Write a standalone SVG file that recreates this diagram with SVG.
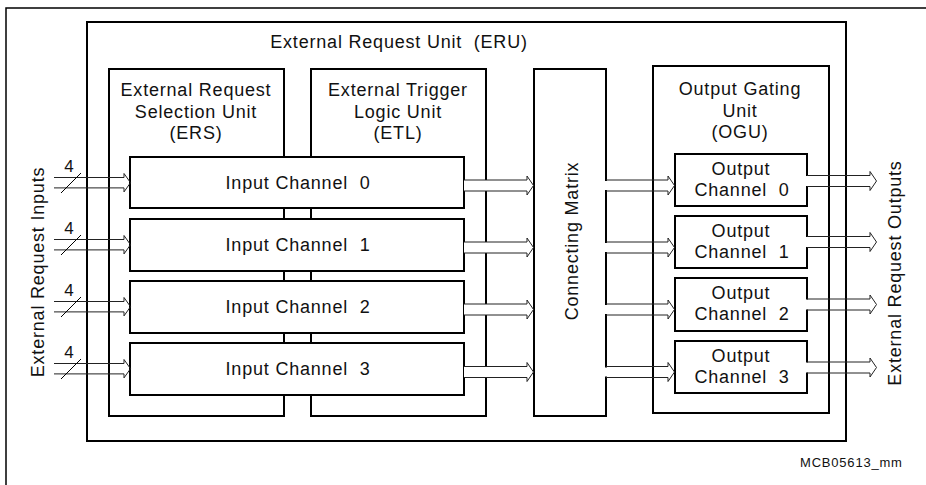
<svg xmlns="http://www.w3.org/2000/svg" width="926" height="485" viewBox="0 0 926 485" xml:space="preserve">
<style>
.bx{fill:#fff;stroke:#000;stroke-width:2}
.fr{fill:none;stroke:#000;stroke-width:1.5}
.t{font-family:"Liberation Sans",Arial,sans-serif;font-size:18px;letter-spacing:0.8px;fill:#111;text-anchor:middle;white-space:pre}
.s{font-family:"Liberation Sans",Arial,sans-serif;font-size:13px;letter-spacing:0.8px;fill:#111}
.ar{fill:none;stroke:#222;stroke-width:1}
.arf{fill:#fff;stroke:#222;stroke-width:1}
.gap{fill:#fff;stroke:none}
.sl{stroke:#000;stroke-width:1}
.n{font-size:17px;letter-spacing:0}
</style>
<rect width="926" height="485" fill="#fff"/>
<g id="frame"><path class="fr" d="M6,485 V8 H926"/></g>
<g id="eru"><rect class="bx" x="87" y="22" width="759" height="419"/>
<text class="t" x="399" y="48">External Request Unit  (ERU)</text></g>
<g id="ers"><rect class="bx" x="109" y="69" width="175" height="347"/>
<text class="t" x="196" y="96">External Request</text><text class="t" x="196" y="118">Selection Unit</text><text class="t" x="196" y="139">(ERS)</text></g>
<g id="etl"><rect class="bx" x="311" y="69" width="175" height="347"/>
<text class="t" x="398" y="96">External Trigger</text><text class="t" x="398" y="118">Logic Unit</text><text class="t" x="398" y="139">(ETL)</text></g>
<g id="matrix"><rect class="bx" x="534" y="69" width="72" height="347"/>
<text class="t" transform="translate(578,241) rotate(-90)">Connecting Matrix</text></g>
<g id="ogu"><rect class="bx" x="653" y="66" width="176" height="347"/>
<text class="t" x="740" y="95">Output Gating</text><text class="t" x="740" y="117">Unit</text><text class="t" x="740" y="138">(OGU)</text></g>
<g id="in0"><rect class="bx" x="130" y="157" width="334" height="51"/><text class="t" x="298" y="189">Input Channel  0</text></g>
<g id="in1"><rect class="bx" x="130" y="219" width="334" height="52"/><text class="t" x="298" y="251">Input Channel  1</text></g>
<g id="in2"><rect class="bx" x="130" y="281" width="334" height="52"/><text class="t" x="298" y="313">Input Channel  2</text></g>
<g id="in3"><rect class="bx" x="130" y="343" width="334" height="52"/><text class="t" x="298" y="375">Input Channel  3</text></g>
<g id="out0"><rect class="bx" x="675" y="154" width="132" height="52"/><text class="t" x="741" y="175">Output</text><text class="t" x="742" y="196">Channel  0</text></g>
<g id="out1"><rect class="bx" x="675" y="216" width="132" height="52"/><text class="t" x="741" y="237">Output</text><text class="t" x="742" y="258">Channel  1</text></g>
<g id="out2"><rect class="bx" x="675" y="278" width="132" height="53"/><text class="t" x="741" y="299">Output</text><text class="t" x="742" y="320">Channel  2</text></g>
<g id="out3"><rect class="bx" x="675" y="341" width="132" height="52"/><text class="t" x="741" y="362">Output</text><text class="t" x="742" y="383">Channel  3</text></g>
<g id="connectors">
<path class="ar" d="M54,177.5 H124 V173.5 L130.5,182.7 L124,191.9 V187.9 H54"/>
<path class="ar" d="M54,239.5 H124 V235.5 L130.5,244.7 L124,253.9 V249.9 H54"/>
<path class="ar" d="M54,301.5 H124 V297.5 L130.5,306.7 L124,315.9 V311.9 H54"/>
<path class="ar" d="M54,363.5 H124 V359.5 L130.5,368.7 L124,377.9 V373.9 H54"/>
<line class="sl" x1="61" y1="193" x2="81" y2="173"/>
<line class="sl" x1="61" y1="255" x2="81" y2="235"/>
<line class="sl" x1="61" y1="317" x2="81" y2="297"/>
<line class="sl" x1="61" y1="379" x2="81" y2="359"/>
<path class="arf" d="M464,180 H527 V176 L533.5,185.5 L527,195 V191 H464"/>
<path class="arf" d="M464,242 H527 V238 L533.5,247.5 L527,257 V253 H464"/>
<path class="arf" d="M464,304 H527 V300 L533.5,309.5 L527,319 V315 H464"/>
<path class="arf" d="M464,366.5 H527 V362.5 L533.5,372 L527,381.5 V377.5 H464"/>
<rect class="gap" x="604.5" y="181" width="3" height="9"/>
<rect class="gap" x="604.5" y="243" width="3" height="9"/>
<rect class="gap" x="604.5" y="305" width="3" height="9"/>
<rect class="gap" x="604.5" y="367.5" width="3" height="9"/>
<path class="ar" d="M606,180 H668 V176 L674.5,185.5 L668,195 V191 H606"/>
<path class="ar" d="M606,242 H668 V238 L674.5,247.5 L668,257 V253 H606"/>
<path class="ar" d="M606,304 H668 V300 L674.5,309.5 L668,319 V315 H606"/>
<path class="ar" d="M606,366.5 H668 V362.5 L674.5,372 L668,381.5 V377.5 H606"/>
<rect class="gap" x="805.5" y="176" width="3" height="10"/>
<rect class="gap" x="805.5" y="237" width="3" height="10"/>
<rect class="gap" x="805.5" y="299.5" width="3" height="10"/>
<rect class="gap" x="805.5" y="362.5" width="3" height="10"/>
<path class="ar" d="M807,175.5 H870 V171.5 L876.5,181 L870,190.5 V186.5 H807"/>
<path class="ar" d="M807,236.5 H870 V232.5 L876.5,242 L870,251.5 V247.5 H807"/>
<path class="ar" d="M807,299 H870 V295 L876.5,304.5 L870,314 V310 H807"/>
<path class="ar" d="M807,362 H870 V358 L876.5,367.5 L870,377 V373 H807"/>
</g>
<g id="labels">
<text class="t n" x="69" y="172">4</text>
<text class="t n" x="69" y="234">4</text>
<text class="t n" x="69" y="296">4</text>
<text class="t n" x="69" y="358">4</text>
<text class="t" transform="translate(44,272) rotate(-90)">External Request Inputs</text>
<text class="t" transform="translate(901,273) rotate(-90)">External Request Outputs</text>
<text class="s" x="800" y="467">MCB05613_mm</text>
</g>
</svg>
